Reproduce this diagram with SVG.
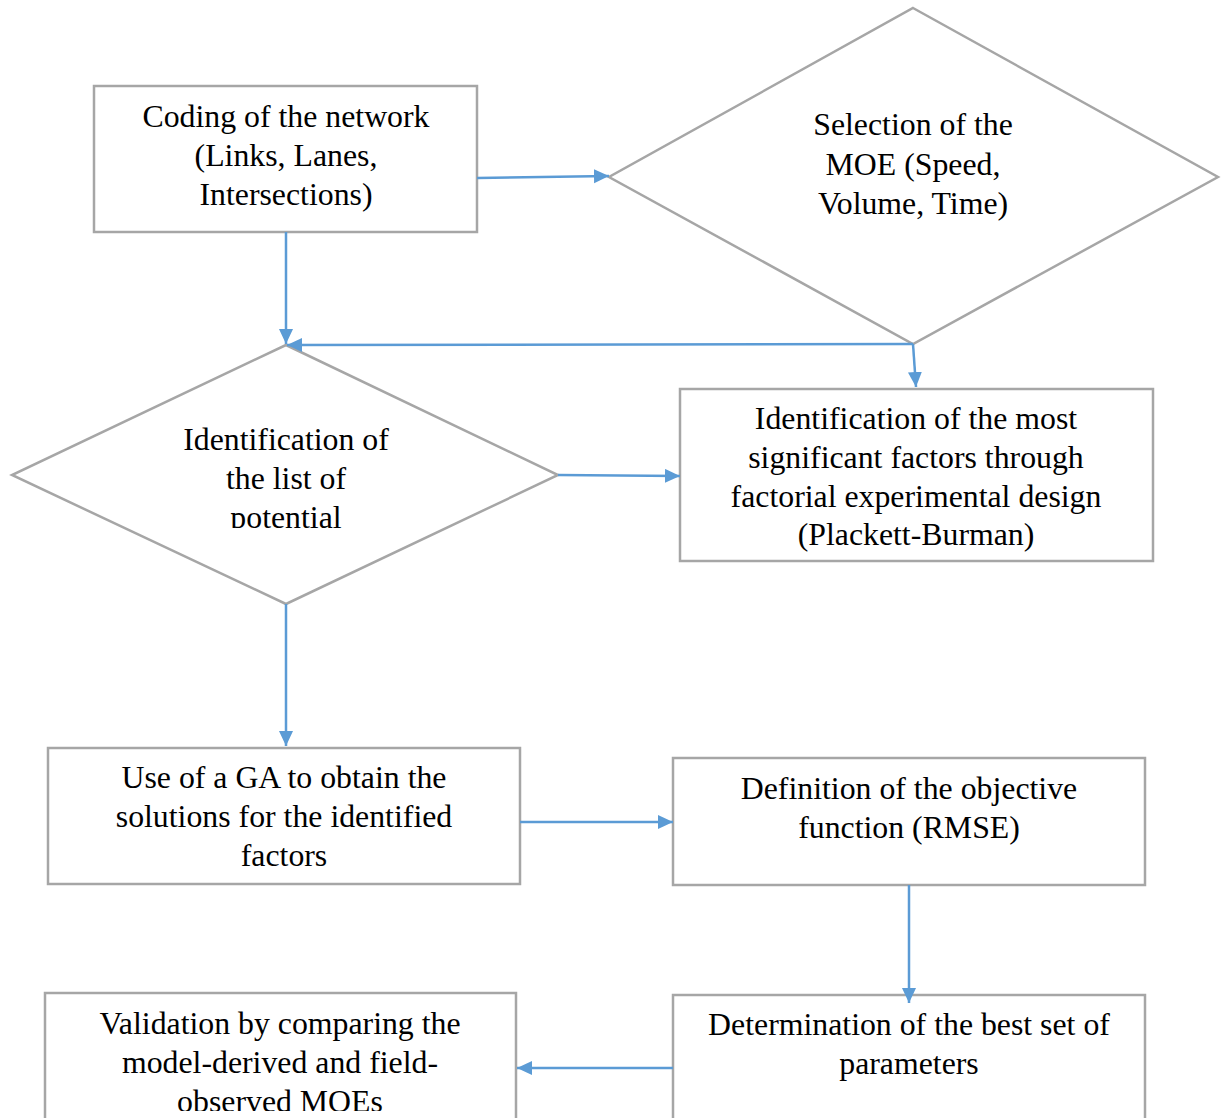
<svg xmlns="http://www.w3.org/2000/svg" width="1225" height="1118" viewBox="0 0 1225 1118">
  <style>
    .box { fill: #ffffff; stroke: #a6a6a6; stroke-width: 2.5; }
    .lbl { font-family: "Liberation Serif", "Times New Roman", serif; font-size: 31.8px; fill: #000000; text-anchor: middle; }
    .edge { fill: none; stroke: #5b9bd5; stroke-width: 2.5; }
  </style>
  <defs>
    <marker id="arrow" markerUnits="userSpaceOnUse" markerWidth="16" markerHeight="16" refX="15" refY="7" orient="auto">
      <path d="M0,0 L15,7 L0,14 z" fill="#5b9bd5"/>
    </marker>
    <clipPath id="clipPotential">
      <rect x="0" y="340" width="700" height="188"/>
    </clipPath>
    <clipPath id="clipObserved">
      <rect x="0" y="980" width="600" height="131"/>
    </clipPath>
  </defs>

  <rect width="1225" height="1118" fill="#ffffff"/>

  <g id="coding">
    <rect class="box" x="94" y="86" width="383" height="146"/>
    <text class="lbl" x="286" y="127">Coding of the network</text>
    <text class="lbl" x="286" y="166">(Links, Lanes,</text>
    <text class="lbl" x="286" y="205">Intersections)</text>
  </g>

  <g id="selection">
    <polygon class="box" points="913,8 1218,177 913,344 609,177"/>
    <text class="lbl" x="913" y="135">Selection of the</text>
    <text class="lbl" x="913" y="175">MOE (Speed,</text>
    <text class="lbl" x="913" y="214">Volume, Time)</text>
  </g>

  <g id="potential-list">
    <polygon class="box" points="286,345 558,475 286,604 12,475"/>
    <g clip-path="url(#clipPotential)">
      <text class="lbl" x="286" y="450">Identification of</text>
      <text class="lbl" x="286" y="489">the list of</text>
      <text class="lbl" x="286" y="528">potential</text>
    </g>
  </g>

  <g id="significant-factors">
    <rect class="box" x="680" y="389" width="473" height="172"/>
    <text class="lbl" x="916" y="429">Identification of the most</text>
    <text class="lbl" x="916" y="468">significant factors through</text>
    <text class="lbl" x="916" y="507">factorial experimental design</text>
    <text class="lbl" x="916" y="545">(Plackett-Burman)</text>
  </g>

  <g id="ga">
    <rect class="box" x="48" y="748" width="472" height="136"/>
    <text class="lbl" x="284" y="788">Use of a GA to obtain the</text>
    <text class="lbl" x="284" y="827">solutions for the identified</text>
    <text class="lbl" x="284" y="866">factors</text>
  </g>

  <g id="objective">
    <rect class="box" x="673" y="758" width="472" height="127"/>
    <text class="lbl" x="909" y="799">Definition of the objective</text>
    <text class="lbl" x="909" y="838">function (RMSE)</text>
  </g>

  <g id="best-parameters">
    <rect class="box" x="673" y="995" width="472" height="140"/>
    <text class="lbl" x="909" y="1035">Determination of the best set of</text>
    <text class="lbl" x="909" y="1074">parameters</text>
  </g>

  <g id="validation">
    <rect class="box" x="45" y="993" width="471" height="140"/>
    <g clip-path="url(#clipObserved)">
      <text class="lbl" x="280" y="1034">Validation by comparing the</text>
      <text class="lbl" x="280" y="1073">model-derived and field-</text>
      <text class="lbl" x="280" y="1112">observed MOEs</text>
    </g>
  </g>

  <g id="connectors">
    <path class="edge" d="M477,178 L609,176" marker-end="url(#arrow)"/>
    <path class="edge" d="M286,232 L286,344" marker-end="url(#arrow)"/>
    <path class="edge" d="M913,344 L287,345" marker-end="url(#arrow)"/>
    <path class="edge" d="M913,344 L916,387" marker-end="url(#arrow)"/>
    <path class="edge" d="M558,475 L680,476" marker-end="url(#arrow)"/>
    <path class="edge" d="M286,604 L286,746" marker-end="url(#arrow)"/>
    <path class="edge" d="M520,822 L673,822" marker-end="url(#arrow)"/>
    <path class="edge" d="M909,885 L909,1003" marker-end="url(#arrow)"/>
    <path class="edge" d="M673,1068 L517,1068" marker-end="url(#arrow)"/>
  </g>
</svg>
